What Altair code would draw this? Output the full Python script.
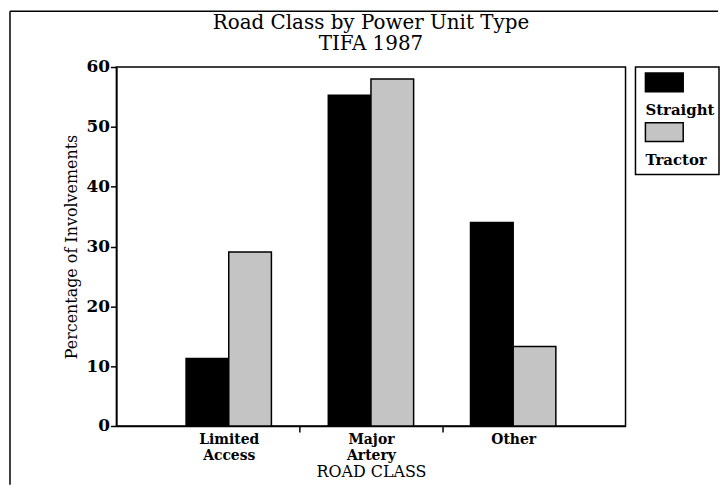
import altair as alt
import pandas as pd

categories = ["Limited Access", "Major Artery", "Other"]
series = ["Straight", "Tractor"]
straight = [11.3, 55.3, 34.0]
tractor = [29.1, 58.0, 13.3]

rows = []
for c, s, t in zip(categories, straight, tractor):
    rows.append({"road": c, "type": series[0], "pct": s})
    rows.append({"road": c, "type": series[1], "pct": t})
df = pd.DataFrame(rows)
legend_df = pd.DataFrame({"type": series})

FONT = "DejaVu Serif"
fills = ["black", "#c4c4c4"]

bars = alt.Chart(df).mark_bar(stroke="black", strokeWidth=1.5).encode(
    x=alt.X(
        "road:N",
        sort=categories,
        scale=alt.Scale(paddingInner=0.4, paddingOuter=0.49),
        axis=alt.Axis(
            title="ROAD CLASS",
            labelAngle=0,
            labelExpr="split(datum.label, ' ')",
            labelFont=FONT, labelFontSize=14, labelFontWeight="bold",
            labelLineHeight=16, labelPadding=1, labelColor="black",
            bandPosition=1, tickOffset=28.6, labelOffset=-28.6,
            tickSize=6, tickWidth=1.5,
            tickColor={"condition": {"test": "datum.value === '%s'" % categories[-1], "value": "transparent"}, "value": "black"},
            domainColor="black", domainWidth=1.5,
            titleFont=FONT, titleFontSize=16, titleFontWeight="normal",
            titlePadding=1, titleColor="black",
        ),
    ),
    xOffset=alt.XOffset("type:N", sort=series),
    y=alt.Y(
        "pct:Q",
        scale=alt.Scale(domain=[0, 60]),
        axis=alt.Axis(
            title="Percentage of Involvements",
            values=[0, 10, 20, 30, 40, 50, 60],
            grid=False,
            labelFont=FONT, labelFontSize=17, labelFontWeight="bold",
            labelPadding=1, labelColor="black",
            tickSize=6, tickWidth=1.5, tickColor="black",
            domainColor="black", domainWidth=1.5,
            titleFont=FONT, titleFontSize=16, titleFontWeight="normal",
            titlePadding=6, titleColor="black",
        ),
    ),
    color=alt.Color("type:N", scale=alt.Scale(domain=series, range=fills), legend=None),
)

frame_left = alt.Chart(alt.Data(values=[{}])).mark_rule(color="black", strokeWidth=1.5).encode(
    x=alt.value(-107), y=alt.value(-56), y2=alt.value(420)
)
frame_top = alt.Chart(alt.Data(values=[{}])).mark_rule(color="black", strokeWidth=1.5).encode(
    y=alt.value(-56), x=alt.value(-107), x2=alt.value(605)
)

main = alt.layer(bars, frame_left, frame_top).properties(
    width=512, height=361,
    title=alt.TitleParams(
        text=["Road Class by Power Unit Type", "TIFA 1987"],
        font=FONT, fontSize=20, fontWeight="normal", lineHeight=21,
        anchor="middle", offset=-44, color="black",
    ),
)

leg_y = alt.Y("type:N", sort=series, axis=None, scale=alt.Scale(paddingInner=0, paddingOuter=0.08))
leg_sym = alt.Chart(legend_df).mark_bar(size=19, yOffset=-13.5, stroke="black", strokeWidth=1.5).encode(
    y=leg_y,
    x=alt.value(10), x2=alt.value(48),
    color=alt.Color("type:N", scale=alt.Scale(domain=series, range=fills), legend=None),
)
leg_txt = alt.Chart(legend_df).mark_text(
    align="left", baseline="alphabetic", dy=19.5, font=FONT, fontSize=15, fontWeight="bold", color="black"
).encode(y=leg_y, x=alt.value(10), text="type:N")
legend = alt.layer(leg_sym, leg_txt).properties(width=84, height=108)

chart = alt.hconcat(main, legend, spacing=10, bounds="flush").properties(
    padding=0, background="white"
).configure_view(stroke="black", strokeWidth=1.5)

chart.save("out.html", embed_options={"renderer": "svg", "actions": False})
